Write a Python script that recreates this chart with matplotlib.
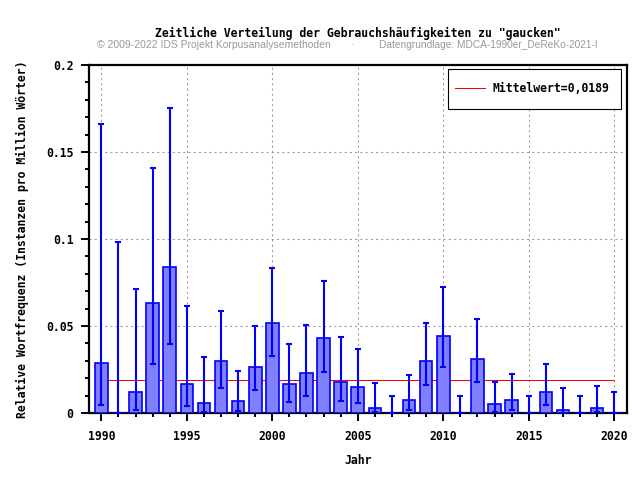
import matplotlib
matplotlib.use("Agg")
import matplotlib.pyplot as plt
from matplotlib.ticker import MultipleLocator, FuncFormatter
from matplotlib.patches import Rectangle
import numpy as np

years = list(range(1990, 2021))
values = [0.0286, 0.0, 0.0119, 0.0634, 0.0837, 0.0165, 0.0056, 0.0297, 0.0067, 0.0263,
          0.0519, 0.0165, 0.0228, 0.0429, 0.0180, 0.0151, 0.0027, 0.0, 0.0073, 0.0297,
          0.0441, 0.0, 0.0312, 0.0050, 0.0073, 0.0, 0.0119, 0.0019, 0.0, 0.0027, 0.0]
err_low = [0.0046, 0.0, 0.0017, 0.0284, 0.0399, 0.0042, 0.0004, 0.0146, 0.0013, 0.0134,
           0.0326, 0.0065, 0.0100, 0.0238, 0.0071, 0.0059, 0.0004, 0.0, 0.0019, 0.0163,
           0.0266, 0.0, 0.0178, 0.0004, 0.0019, 0.0, 0.0048, 0.0001, 0.0, 0.0004, 0.0]
err_high = [0.166, 0.0985, 0.0715, 0.141, 0.1755, 0.0617, 0.0324, 0.0588, 0.0243, 0.0502,
            0.0835, 0.0399, 0.0508, 0.0757, 0.0435, 0.037, 0.0174, 0.01, 0.0217, 0.0519,
            0.0726, 0.01, 0.0542, 0.0176, 0.0226, 0.01, 0.028, 0.0146, 0.01, 0.0153, 0.0119]
mean_value = 0.0189
title = 'Zeitliche Verteilung der Gebrauchshäufigkeiten zu "gaucken"'
subtitle_left = "© 2009-2022 IDS Projekt Korpusanalysemethoden"
subtitle_right = "Datengrundlage: MDCA-1990er_DeReKo-2021-I"
xlabel = "Jahr"
ylabel = "Relative Wortfrequenz (Instanzen pro Million Wörter)"
legend_label = "Mittelwert=0,0189"

mono = "DejaVu Sans Mono"
fs = 8.3

fig = plt.figure(figsize=(6.4, 4.8), dpi=100)
ax_l, ax_b, ax_r, ax_t = 88.7, 413.0, 626.7, 65.0
ax = fig.add_axes([ax_l/640, 1-ax_b/480, (ax_r-ax_l)/640, (ax_b-ax_t)/480])
W, H = ax_r - ax_l, ax_b - ax_t

x = np.array(years)
v = np.array(values)
lo = v - np.array(err_low)
hi = np.array(err_high) - v

ax.plot([years[0], years[-1]], [mean_value, mean_value], color="#ff0000", lw=0.75,
        zorder=2, label=legend_label)
ax.bar(x, v, width=0.74, color="#8080ff", edgecolor="#0000ff", linewidth=1.2, zorder=3)
ax.errorbar(x, v, yerr=[lo, hi], fmt="none", ecolor="#0000ff", elinewidth=1.5,
            capsize=2.5, capthick=1.5, zorder=4)

ax.set_xlim(1989.26, 2020.73)
ax.set_ylim(0, 0.2)
ax.xaxis.set_major_locator(MultipleLocator(5))
ax.xaxis.set_minor_locator(MultipleLocator(1))
ax.yaxis.set_major_locator(MultipleLocator(0.05))
ax.yaxis.set_minor_locator(MultipleLocator(0.01))
ax.yaxis.set_major_formatter(FuncFormatter(lambda val, p: "0" if abs(val) < 1e-9 else ("%g" % val)))

ax.tick_params(axis="both", which="major", direction="out", length=6, width=1.4,
               labelsize=fs, pad=5)
ax.tick_params(axis="both", which="minor", direction="out", length=3.2, width=1.4)
ax.tick_params(axis="x", which="major", pad=6.5)
for lab in ax.get_xticklabels() + ax.get_yticklabels():
    lab.set_fontfamily(mono)
    lab.set_fontweight("bold")

for s in ax.spines.values():
    s.set_linewidth(1.6)

ax.grid(True, which="major", color="#999999", linestyle=(0, (2, 3)), linewidth=0.75, zorder=0)
ax.set_axisbelow(True)

ax.set_xlabel(xlabel, fontfamily=mono, fontweight="bold", fontsize=fs, labelpad=8)
ax.set_ylabel(ylabel, fontfamily=mono, fontweight="bold", fontsize=fs, labelpad=12)

# legend frame
bx0, bx1, by0, by1 = 448.3, 620.7, 69.0, 109.0
frame = Rectangle(((bx0-ax_l)/W, (ax_b-by1)/H), (bx1-bx0)/W, (by1-by0)/H,
                  transform=ax.transAxes, facecolor="white", edgecolor="black",
                  linewidth=0.8, zorder=5)
ax.add_patch(frame)
leg = ax.legend(loc="center left", bbox_to_anchor=((455-ax_l)/W, (ax_b-88.5)/H),
                borderaxespad=0, borderpad=0, frameon=False,
                handlelength=2.6, handletextpad=0.65,
                prop={"family": mono, "weight": "bold", "size": fs})
leg.set_zorder(6)

fig.text(358/640, 1-33/480, title, ha="center", va="center", fontfamily=mono,
         fontweight="bold", fontsize=fs)
fig.text(97/640, 1-45.5/480, subtitle_left, ha="left", va="center",
         fontfamily="Liberation Sans", fontsize=7.5, color="#999999")
fig.text(352/640, 1-45.5/480, "·", ha="center", va="center",
         fontfamily="Liberation Sans", fontsize=7.5, color="#999999")
fig.text(379/640, 1-45.5/480, subtitle_right, ha="left", va="center",
         fontfamily="Liberation Sans", fontsize=7.3, color="#999999")

fig.savefig("out.png", dpi=100)
